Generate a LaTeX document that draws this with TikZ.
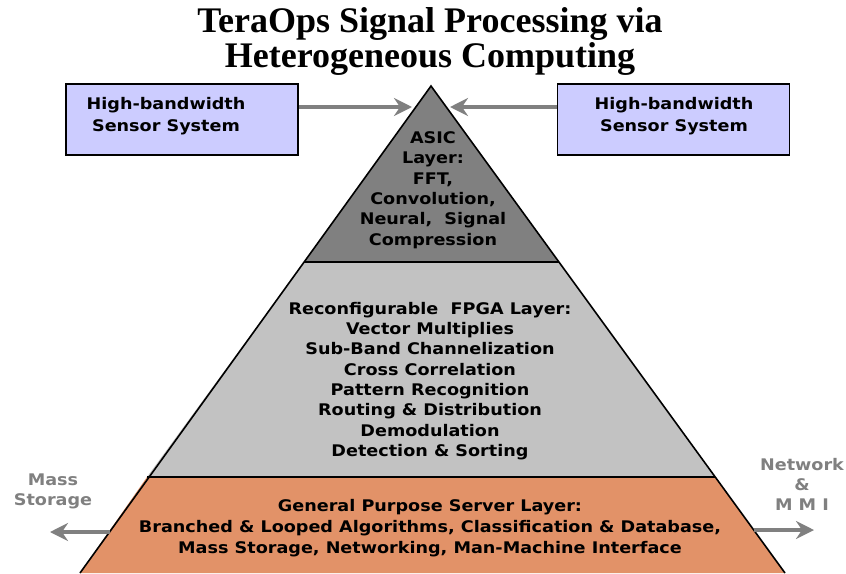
\documentclass[tikz,border=0pt]{standalone}
\usepackage{fontspec}
\setmainfont{Liberation Serif}
\newfontfamily\labelfont[FakeStretch=1.1]{DejaVu Sans}
\usetikzlibrary{arrows.meta}

\definecolor{asicgray}{RGB}{128,128,128}
\definecolor{fpgagray}{RGB}{194,194,194}
\definecolor{serverorange}{RGB}{226,146,104}
\definecolor{sensorfill}{RGB}{204,204,255}
\definecolor{flowgray}{RGB}{128,128,128}

\begin{document}
\begin{tikzpicture}[x=1pt,y=-1pt,
  layertext/.style={font=\labelfont\bfseries\fontsize{16}{20.3}\selectfont, align=center, text=black},
  sensorbox/.style={draw=black, line width=1.5pt, fill=sensorfill,
    minimum width=232pt, minimum height=71pt},
  boxtext/.style={align=center, inner sep=0pt,
    font=\labelfont\bfseries\fontsize{16}{22}\selectfont},
  flow/.style={draw=flowgray, line width=4pt,
    -{Stealth[length=18pt,width=18pt,inset=6pt]}},
  sidelabel/.style={text=flowgray, align=center,
    font=\labelfont\bfseries\fontsize{16}{20}\selectfont},
  edge/.style={draw=black, line width=1.6pt}]

\useasboundingbox (0,0) rectangle (846,573);

% pyramid corners
\coordinate (apex) at (431,86);
\coordinate (aL) at (304,262);
\coordinate (aR) at (559,262);
\coordinate (fL) at (147,477);
\coordinate (fR) at (715,477);
\coordinate (bL) at (80,573);
\coordinate (bR) at (785,573);

% layer fills
\fill[asicgray] (apex) -- (aR) -- (aL) -- cycle;
\fill[fpgagray] (aL) -- (aR) -- (fR) -- (fL) -- cycle;
\fill[serverorange] (fL) -- (fR) -- (bR) -- (bL) -- cycle;

% outlines
\draw[edge] (bL) -- (apex) -- (bR);
\draw[edge] (aL) -- (aR);
\draw[edge] (fL) -- (fR);

% title
\node[font=\bfseries\fontsize{36}{35}\selectfont, align=center] (title) at (430,41)
  {TeraOps Signal Processing via\\Heterogeneous Computing};

% layer texts
\node[layertext] (asic) at (433,190)
  {ASIC\\Layer:\\FFT,\\Convolution,\\Neural,\ \ Signal\\Compression};
\node[layertext] (fpga) at (430,381)
  {Reconfigurable\ \ FPGA Layer:\\Vector Multiplies\\Sub-Band Channelization\\Cross Correlation\\Pattern Recognition\\Routing \& Distribution\\Demodulation\\Detection \& Sorting};
\node[layertext, font=\labelfont\bfseries\fontsize{16}{21}\selectfont] (server) at (430,528)
  {General Purpose Server Layer:\\Branched \& Looped Algorithms, Classification \& Database,\\Mass Storage, Networking, Man-Machine Interface};

% sensor inputs
\node[sensorbox] (sensL) at (182,119.5) {};
\node[boxtext] (sensLtext) at (166,116) {High-bandwidth\\Sensor System};
\node[sensorbox] (sensR) at (673.5,119.5) {};
\node[boxtext] (sensRtext) at (674,116) {High-bandwidth\\Sensor System};
\coordinate (inL) at (412,107);
\coordinate (inR) at (450,107);
\draw[flow] (sensL.east |- inL) -- (inL);
\draw[flow] (sensR.west |- inR) -- (inR);

% outputs of the server layer
\node[sidelabel] (mass) at (53,491) {Mass\\Storage};
\node[sidelabel] (net) at (802,484) {Network\\\&\\M M I};
\coordinate (massTail) at (110,532);
\coordinate (massTip) at (50,532);
\coordinate (netTail) at (754,530);
\coordinate (netTip) at (814,530);
\draw[flow] (massTail) -- (massTip);
\draw[flow] (netTail) -- (netTip);
\end{tikzpicture}
\end{document}
